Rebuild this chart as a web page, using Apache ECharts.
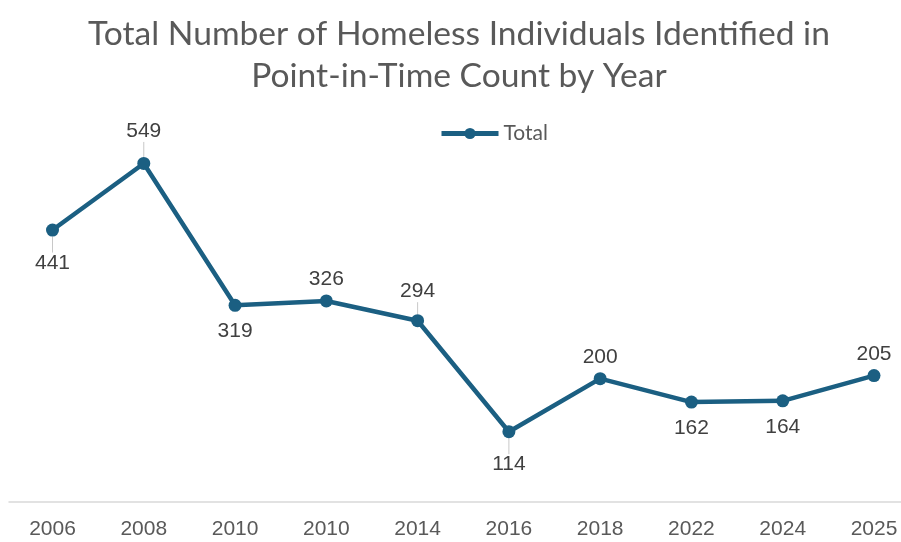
<!DOCTYPE html>
<html><head><meta charset="utf-8">
<script src="https://cdn.jsdelivr.net/npm/echarts@6/dist/echarts.min.js"></script>
<style>html,body{margin:0;padding:0;background:#fff}#c{width:901px;height:542px}</style>
</head><body><div id="c"></div>
<script>
const categories = ['2006','2008','2010','2010','2014','2016','2018','2022','2024','2025'];
const totals = [441, 549, 319, 326, 294, 114, 200, 162, 164, 205];
const labelSide = ['bottom','top','bottom','top','top','bottom','top','bottom','bottom','top'];
const labelPushed = [true, true, false, false, true, true, false, false, false, false];
const labelNudge = [7, -6, 0, 4, -3, 7, 5, 0, 0, 5];

const chart = echarts.init(document.getElementById('c'));
chart.setOption({
  animation: false,
  title: {
    text: 'Total Number of Homeless Individuals Identified in\nPoint-in-Time Count by Year',
    left: 454, top: 8, textAlign: 'center',
    textStyle: {fontFamily: 'Lato', fontSize: 33.6, fontWeight: 'normal', color: '#595959', lineHeight: 42}
  },
  legend: {
    data: ['Total'], left: 434, top: 118, itemWidth: 57, itemHeight: 14, itemGap: 4,
    lineStyle: {width: 5},
    textStyle: {fontFamily: 'Lato', fontSize: 21, color: '#595959'}
  },
  grid: [
    {left: 52.5, right: 27, top: 132, bottom: 40, containLabel: false},
    {left: 9, right: 0, top: 132, bottom: 40, containLabel: false}
  ],
  xAxis: [{
    type: 'category', data: categories, boundaryGap: false, gridIndex: 0,
    axisLine: {show: false},
    axisTick: {show: false},
    axisLabel: {fontFamily: 'Liberation Sans', fontSize: 21, color: '#595959', margin: 17, interval: 0}
  }, {
    type: 'value', gridIndex: 1, min: 0, max: 1,
    axisLine: {show: true, lineStyle: {color: '#d9d9d9', width: 1.5}},
    axisTick: {show: false}, axisLabel: {show: false}, splitLine: {show: false}
  }],
  yAxis: [
    {type: 'value', min: 0, max: 600, show: false, splitLine: {show: false}, gridIndex: 0},
    {type: 'value', min: 0, max: 600, show: false, splitLine: {show: false}, gridIndex: 1}
  ],
  series: [{
    name: 'Total', type: 'line', xAxisIndex: 0, yAxisIndex: 0,
    data: totals.map((v, i) => ({
      value: v,
      label: {position: labelSide[i]},
      labelLine: {show: labelPushed[i]}
    })),
    lineStyle: {color: '#1b5f82', width: 4.5},
    itemStyle: {color: '#1b5f82'},
    symbol: 'circle', symbolSize: 13,
    label: {show: true, distance: 9, fontFamily: 'Liberation Sans', fontSize: 21, color: '#404040'},
    labelLine: {lineStyle: {color: '#c8c8c8', width: 1}},
    labelLayout: function (p) {
      return {dy: labelNudge[p.dataIndex]};
    }
  }]
});
</script></body></html>
